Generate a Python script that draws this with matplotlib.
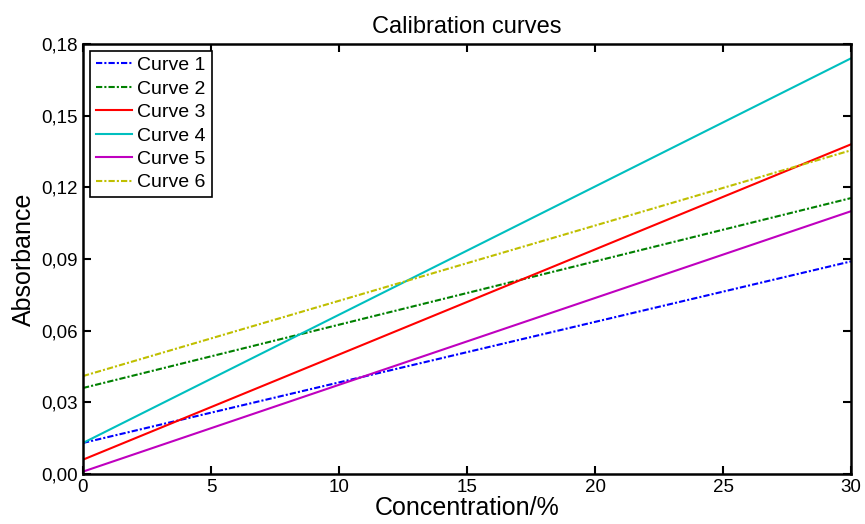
import numpy as np
import matplotlib.pyplot as plt

plt.rcParams['font.family'] = ['Liberation Sans', 'DejaVu Sans']

# concentration range and line end values
conc = [0, 30]
curve_names = ["Curve 1", "Curve 2", "Curve 3", "Curve 4", "Curve 5", "Curve 6"]
curve_start = [0.013, 0.036, 0.006, 0.013, 0.001, 0.041]
curve_end = [0.089, 0.1155, 0.138, 0.174, 0.110, 0.1355]
colors = ["b", "g", "r", "c", "m", "y"]
styles = [(0, (3, 1, 1, 1)), (0, (3, 1, 1, 1)), "-", "-", "-", (0, (3, 1, 1, 1))]

xticks = [0, 5, 10, 15, 20, 25, 30]
yticks = [0.00, 0.03, 0.06, 0.09, 0.12, 0.15, 0.18]

fig = plt.figure(figsize=(8.65, 5.24), dpi=100)
ax = fig.add_axes([83 / 865, 1 - 474 / 524, (851 - 83) / 865, (474 - 44) / 524])

for name, y0, y1, c, ls in zip(curve_names, curve_start, curve_end, colors, styles):
    ax.plot(conc, [y0, y1], color=c, linestyle=ls, linewidth=1.5, label=name)

ax.set_xlim(0, 30)
ax.set_ylim(0, 0.18)
ax.set_xticks(xticks)
ax.set_yticks(yticks)
ax.set_yticklabels([("%.2f" % v).replace(".", ",") for v in yticks])
ax.tick_params(direction="in", length=6, width=1.5, top=True, right=True, labelsize=13.5)
for s in ax.spines.values():
    s.set_linewidth(1.8)

ax.set_title("Calibration curves", fontsize=17, pad=8)
ax.set_xlabel("Concentration/%", fontsize=18, labelpad=0)
ax.set_ylabel("Absorbance", fontsize=18, labelpad=4)

leg = ax.legend(loc="upper left", fontsize=14, handlelength=1.85, handletextpad=0.3,
                labelspacing=0.3, borderpad=0.3, borderaxespad=0.35, fancybox=False,
                framealpha=1)
leg.get_frame().set_edgecolor("black")
leg.get_frame().set_linewidth(1.2)

plt.savefig("out.png", dpi=100)
